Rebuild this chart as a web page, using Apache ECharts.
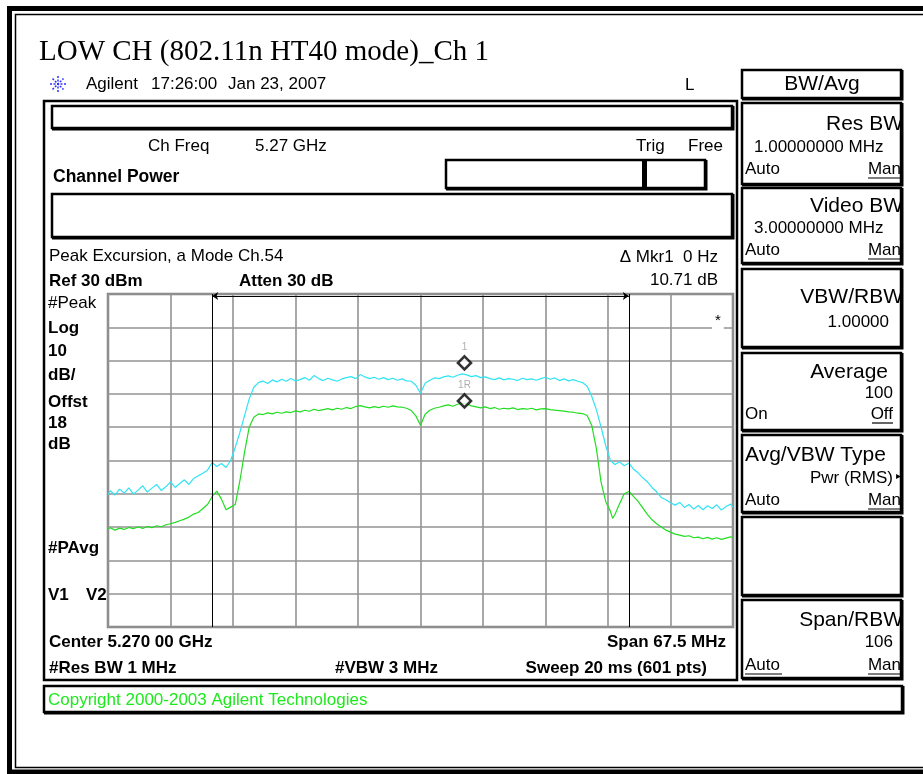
<!DOCTYPE html>
<html>
<head>
<meta charset="utf-8">
<script src="https://cdn.jsdelivr.net/npm/echarts@6/dist/echarts.min.js"></script>
<style>
  html, body { margin: 0; padding: 0; background: #fff; }
  #chart { width: 923px; height: 774px; }
</style>
</head>
<body>
<div id="chart"></div>
<script>
// sweep points, offset from centre 5.270 GHz (MHz)
const freqMHz = [-33.75, -33.5, -33, -32.5, -32, -31.5, -31, -30.5, -30, -29.5,
  -29, -28.5, -28, -27.5, -27, -26.5, -26, -25.5, -25, -24.5,
  -24, -23.5, -23, -22.5, -22, -21.5, -21, -20.5, -20, -19.5,
  -19, -18.5, -18, -17.5, -17, -16.5, -16, -15.5, -15, -14.5,
  -14, -13.5, -13, -12.5, -12, -11.5, -11, -10.5, -10, -9.5,
  -9, -8.5, -8, -7.5, -7, -6.5, -6, -5.5, -5, -4.5,
  -4, -3.5, -3, -2.5, -2, -1.5, -1, -0.5, 0, 0.5,
  1, 1.5, 2, 2.5, 3, 3.5, 4, 4.5, 5, 5.5,
  6, 6.5, 7, 7.5, 8, 8.5, 9, 9.5, 10, 10.5,
  11, 11.5, 12, 12.5, 13, 13.5, 14, 14.5, 15, 15.5,
  16, 16.5, 17, 17.5, 18, 18.5, 19, 19.5, 20, 20.5,
  20.75, 21, 21.5, 22, 22.5, 23, 23.5, 24, 24.5, 25,
  25.5, 26, 26.5, 27, 27.5, 28, 28.5, 29, 29.5, 30,
  30.5, 31, 31.5, 32, 32.5, 33, 33.5, 33.75]

// #Peak trace (dBm)
const peakTrace = [-30.2, -29.1, -30.4, -28.6, -29.8, -28.2, -30.1, -28.9, -27.6, -29.5,
  -28.3, -27.2, -29.0, -27.9, -26.4, -28.1, -26.9, -25.8, -27.2, -25.4,
  -24.6, -23.8, -22.9, -20.6, -21.8, -20.9, -22.1, -20.0, -16.0, -11.5,
  -6.5, -1.5, 2.0, 3.4, 3.9, 3.1, 4.2, 3.6, 4.4, 3.8,
  4.6, 3.9, 4.3, 4.9, 4.1, 5.5, 4.6, 4.0, 4.7, 4.2,
  3.8, 4.5, 4.9, 5.2, 4.6, 5.8, 5.1, 4.6, 5.0, 4.4,
  4.9, 4.3, 4.7, 4.1, 4.5, 3.9, 3.8, 2.6, 0.2, 3.2,
  4.1, 4.8, 4.6, 5.1, 5.4, 5.0, 5.6, 6.0, 5.7, 5.2,
  5.5, 4.9, 5.1, 4.6, 4.3, 4.8, 4.2, 4.6, 4.4, 4.0,
  4.7, 4.3, 4.5, 4.1, 4.6, 5.0, 4.4, 4.8, 4.0, 4.5,
  3.9, 4.3, 3.8, 3.4, 2.3, -0.8, -4.8, -10.0, -15.5, -19.8,
  -20.6, -21.2, -20.4, -21.6, -20.8, -22.6, -23.7, -25.2, -26.4, -28.1,
  -29.4, -31.1, -31.8, -32.7, -33.4, -32.6, -34.1, -33.2, -34.6, -33.5,
  -34.8, -33.6, -34.4, -33.3, -34.9, -33.8, -33.1, -34.0]

// #PAvg trace (dBm)
const avgTrace = [-40.6, -40.2, -40.9, -40.3, -40.7, -40.1, -40.5, -39.9, -40.4, -39.8,
  -40.2, -39.6, -39.9, -39.3, -39.0, -38.6, -38.1, -37.6, -37.0, -36.1,
  -35.6, -34.4, -33.2, -30.8, -29.2, -31.6, -34.8, -34.0, -33.2, -26.0,
  -17.5, -10.0, -7.0, -6.0, -6.2, -5.7, -6.0, -5.5, -5.8, -5.4,
  -5.6, -5.1, -5.4, -4.9, -5.2, -4.6, -5.0, -4.7, -4.4, -4.8,
  -4.3, -4.6, -4.1, -4.4, -3.8, -3.5, -3.9, -4.2, -3.8, -4.1,
  -3.7, -4.0, -3.6, -3.9, -4.0, -4.3, -5.0, -6.6, -9.4, -6.1,
  -4.9, -4.3, -4.0, -3.6, -3.3, -3.7, -3.1, -2.8, -3.0, -3.6,
  -3.9, -4.2, -3.9, -4.4, -4.1, -4.6, -4.3, -4.5, -4.2, -4.7,
  -4.4, -4.6, -4.3, -4.8, -4.5, -4.4, -4.7, -4.9, -5.0, -5.2,
  -5.4, -5.5, -5.8, -5.9, -6.5, -9.5, -16.5, -26.5, -32.3, -35.2,
  -37.4, -36.2, -33.0, -30.0, -29.3, -30.8, -32.3, -34.2, -36.2, -37.8,
  -39.0, -40.0, -40.9, -41.5, -42.1, -42.4, -42.8, -42.6, -43.2, -43.0,
  -43.5, -43.1, -43.6, -43.2, -43.7, -43.3, -42.9, -43.2]

const bandEdges = [-22.5, 22.5]
const bandArrowLevel = 29.4
const markerFreq = 4.75
const markerLevels = [9.3, -2.1]
const markerNames = ['1', '1R']

const SANS = '"Liberation Sans", Arial, sans-serif'

function txt(x, y, s, opt) {
  opt = opt || {}
  let size = opt.size || 17
  let weight = opt.bold ? 'bold ' : ''
  let family = opt.family || SANS
  return {
    type: 'text',
    x: x,
    y: y,
    z: opt.z || 10,
    style: {
      text: s,
      fill: opt.color || '#000',
      font: weight + size + 'px ' + family,
      align: opt.align || 'left',
      textAlign: opt.align || 'left',
      verticalAlign: 'middle',
      textVerticalAlign: 'middle',
      backgroundColor: opt.bg,
      padding: opt.pad,
    },
  }
}

function box(x, y, w, h) {
  return [
    {
      type: 'rect',
      shape: { x: x, y: y, width: w, height: h },
      style: { fill: 'none', stroke: '#000', lineWidth: 2.5 },
    },
    {
      type: 'polyline',
      shape: { points: [[x + w + 1.5, y], [x + w + 1.5, y + h + 1.5], [x, y + h + 1.5]] },
      style: { fill: 'none', stroke: '#000', lineWidth: 2 },
    },
  ]
}

function line(x1, y1, x2, y2, w, color, dash) {
  return {
    type: 'line',
    shape: { x1: x1, y1: y1, x2: x2, y2: y2 },
    style: { stroke: color || '#000', lineWidth: w || 1, lineDash: dash },
  }
}

let elements = []
// page frame
elements.push({ type: 'rect', shape: { x: 9.5, y: 8.5, width: 1000, height: 763.5 }, style: { fill: 'none', stroke: '#000', lineWidth: 5 } })
elements.push({ type: 'rect', shape: { x: 15.5, y: 14.5, width: 1000, height: 753 }, style: { fill: 'none', stroke: '#000', lineWidth: 1.5 } })

elements.push(txt(39, 52, 'LOW CH (802.11n HT40 mode)_Ch 1', { size: 29, family: '"Liberation Serif", "Times New Roman", serif' }))

// agilent logo
let lc = '#3030ff'
elements.push(line(50, 84, 66, 84, 1.5, lc, [2, 1.5]))
elements.push(line(58, 76, 58, 92, 1.5, lc, [2, 1.5]))
elements.push(line(52.5, 78.5, 63.5, 89.5, 1.5, lc, [2, 1.5]))
elements.push(line(52.5, 89.5, 63.5, 78.5, 1.5, lc, [2, 1.5]))
elements.push(txt(86, 84, 'Agilent'))
elements.push(txt(151, 84, '17:26:00'))
elements.push(txt(228, 84, 'Jan 23, 2007'))
elements.push(txt(685, 85, 'L'))

// main screen
elements.push({ type: 'rect', shape: { x: 44, y: 101, width: 693, height: 579 }, style: { fill: 'none', stroke: '#000', lineWidth: 2.5 } })
elements = elements.concat(box(52, 106, 680, 22))
elements.push(txt(148, 146, 'Ch Freq'))
elements.push(txt(255, 146, '5.27 GHz'))
elements.push(txt(636, 146, 'Trig'))
elements.push(txt(688, 146, 'Free'))
elements.push(txt(53, 177, 'Channel Power', { bold: true, size: 17.5 }))
elements = elements.concat(box(446, 160, 259, 28))
elements.push(line(644.5, 160, 644.5, 189, 5))
elements = elements.concat(box(52, 194, 680, 43))
elements.push(txt(49, 256, 'Peak Excursion, a Mode Ch.54'))
elements.push(txt(718, 257, '\u0394 Mkr1  0 Hz', { align: 'right' }))
elements.push(txt(49, 281, 'Ref 30 dBm', { bold: true }))
elements.push(txt(239, 281, 'Atten 30 dB', { bold: true }))
elements.push(txt(718, 280, '10.71 dB', { align: 'right' }))

elements.push(txt(48, 303, '#Peak'))
let sideLabels = [['Log', 328], ['10', 351], ['dB/', 375], ['Offst', 402], ['18', 423], ['dB', 444], ['#PAvg', 548], ['V1', 595]]
sideLabels.forEach((s) => elements.push(txt(48, s[1], s[0], { bold: true })))
elements.push(txt(86, 595, 'V2', { bold: true }))

elements.push(txt(49, 642, 'Center 5.270 00 GHz', { bold: true }))
elements.push(txt(726, 642, 'Span 67.5 MHz', { bold: true, align: 'right' }))
elements.push(txt(49, 668, '#Res BW 1 MHz', { bold: true }))
elements.push(txt(335, 668, '#VBW 3 MHz', { bold: true }))
elements.push(txt(707, 668, 'Sweep 20 ms (601 pts)', { bold: true, align: 'right' }))

elements.push(txt(712, 321, '*', { size: 15, bg: '#fff', pad: [1, 3, 0, 3], z: 100 }))

// copyright bar
elements = elements.concat(box(44, 686, 858, 26))
elements.push(txt(48, 700, 'Copyright 2000-2003 Agilent Technologies', { color: '#1ee81e' }))

// softkeys
elements = elements.concat(box(742, 70, 159, 28))
elements.push(txt(822, 84, 'BW/Avg', { size: 21, align: 'center' }))

elements = elements.concat(box(742, 103, 159, 81))
elements.push(txt(903, 124, 'Res BW', { size: 21, align: 'right' }))
elements.push(txt(754, 147, '1.00000000 MHz'))
elements.push(txt(745, 169, 'Auto'))
elements.push(txt(901, 169, 'Man', { align: 'right' }))
elements.push(line(868, 178, 901, 178, 1.2))

elements = elements.concat(box(742, 188, 159, 75))
elements.push(txt(903, 206, 'Video BW', { size: 21, align: 'right' }))
elements.push(txt(754, 228, '3.00000000 MHz'))
elements.push(txt(745, 250, 'Auto'))
elements.push(txt(901, 250, 'Man', { align: 'right' }))
elements.push(line(868, 259, 901, 259, 1.2))

elements = elements.concat(box(742, 269, 159, 78))
elements.push(txt(903, 297, 'VBW/RBW', { size: 21, align: 'right' }))
elements.push(txt(889, 322, '1.00000', { align: 'right' }))

elements = elements.concat(box(742, 353, 159, 77))
elements.push(txt(888, 372, 'Average', { size: 21, align: 'right' }))
elements.push(txt(893, 393, '100', { align: 'right' }))
elements.push(txt(745, 414, 'On'))
elements.push(txt(893, 414, 'Off', { align: 'right' }))
elements.push(line(872, 423, 893, 423, 1.2))

elements = elements.concat(box(742, 435, 159, 77))
elements.push(txt(745, 455, 'Avg/VBW Type', { size: 21 }))
elements.push(txt(893, 478, 'Pwr (RMS)', { align: 'right' }))
elements.push(txt(896, 476, '\u25B8', { size: 10 }))
elements.push(txt(745, 500, 'Auto'))
elements.push(txt(901, 500, 'Man', { align: 'right' }))
elements.push(line(868, 509, 901, 509, 1.2))

elements = elements.concat(box(742, 517, 159, 78))

elements = elements.concat(box(742, 600, 159, 78))
elements.push(txt(903, 620, 'Span/RBW', { size: 21, align: 'right' }))
elements.push(txt(893, 642, '106', { align: 'right' }))
elements.push(txt(745, 665, 'Auto'))
elements.push(line(745, 674, 782, 674, 1.2))
elements.push(txt(901, 665, 'Man', { align: 'right' }))
elements.push(line(868, 674, 901, 674, 1.2))

let chart = echarts.init(document.getElementById('chart'))
let option = {
  animation: false,
  backgroundColor: '#fff',
  grid: {
    left: 108,
    top: 294,
    width: 625,
    height: 333,
    show: true,
    borderColor: '#7f7f7f',
    borderWidth: 2.5,
  },
  xAxis: {
    type: 'value',
    min: -33.75,
    max: 33.75,
    interval: 6.75,
    axisLine: { show: false },
    axisTick: { show: false },
    axisLabel: { show: false },
    splitLine: { lineStyle: { color: '#939393', width: 1.6 } },
  },
  yAxis: {
    type: 'value',
    min: -70,
    max: 30,
    interval: 10,
    axisLine: { show: false },
    axisTick: { show: false },
    axisLabel: { show: false },
    splitLine: { lineStyle: { color: '#939393', width: 1.6 } },
  },
  graphic: { elements: elements },
  series: [
    {
      name: '#Peak',
      type: 'line',
      showSymbol: false,
      data: freqMHz.map((f, i) => [f, peakTrace[i]]),
      lineStyle: { color: '#30e4f4', width: 1.2 },
      z: 3,
      markLine: {
        silent: true,
        symbol: 'none',
        label: { show: false },
        lineStyle: { color: '#000', width: 1, type: 'solid' },
        data: [
          { xAxis: bandEdges[0] },
          { xAxis: bandEdges[1] },
          [
            { coord: [bandEdges[0], bandArrowLevel], symbol: 'arrow', symbolSize: 6 },
            { coord: [bandEdges[1], bandArrowLevel], symbol: 'arrow', symbolSize: 6 },
          ],
        ],
      },
    },
    {
      name: '#PAvg',
      type: 'line',
      showSymbol: false,
      data: freqMHz.map((f, i) => [f, avgTrace[i]]),
      lineStyle: { color: '#22dd22', width: 1.2 },
      z: 3,
    },
    {
      name: 'markers',
      type: 'scatter',
      symbol: 'diamond',
      symbolSize: [13, 13],
      z: 5,
      itemStyle: { color: '#fff', borderColor: '#000', borderWidth: 2.6 },
      label: {
        show: true,
        position: 'top',
        distance: 3,
        color: '#9a9a9a',
        fontSize: 10,
        fontFamily: SANS,
        formatter: (p) => markerNames[p.dataIndex],
      },
      data: markerLevels.map((v) => [markerFreq, v]),
    },
  ],
}
chart.setOption(option)
</script>
</body>
</html>
